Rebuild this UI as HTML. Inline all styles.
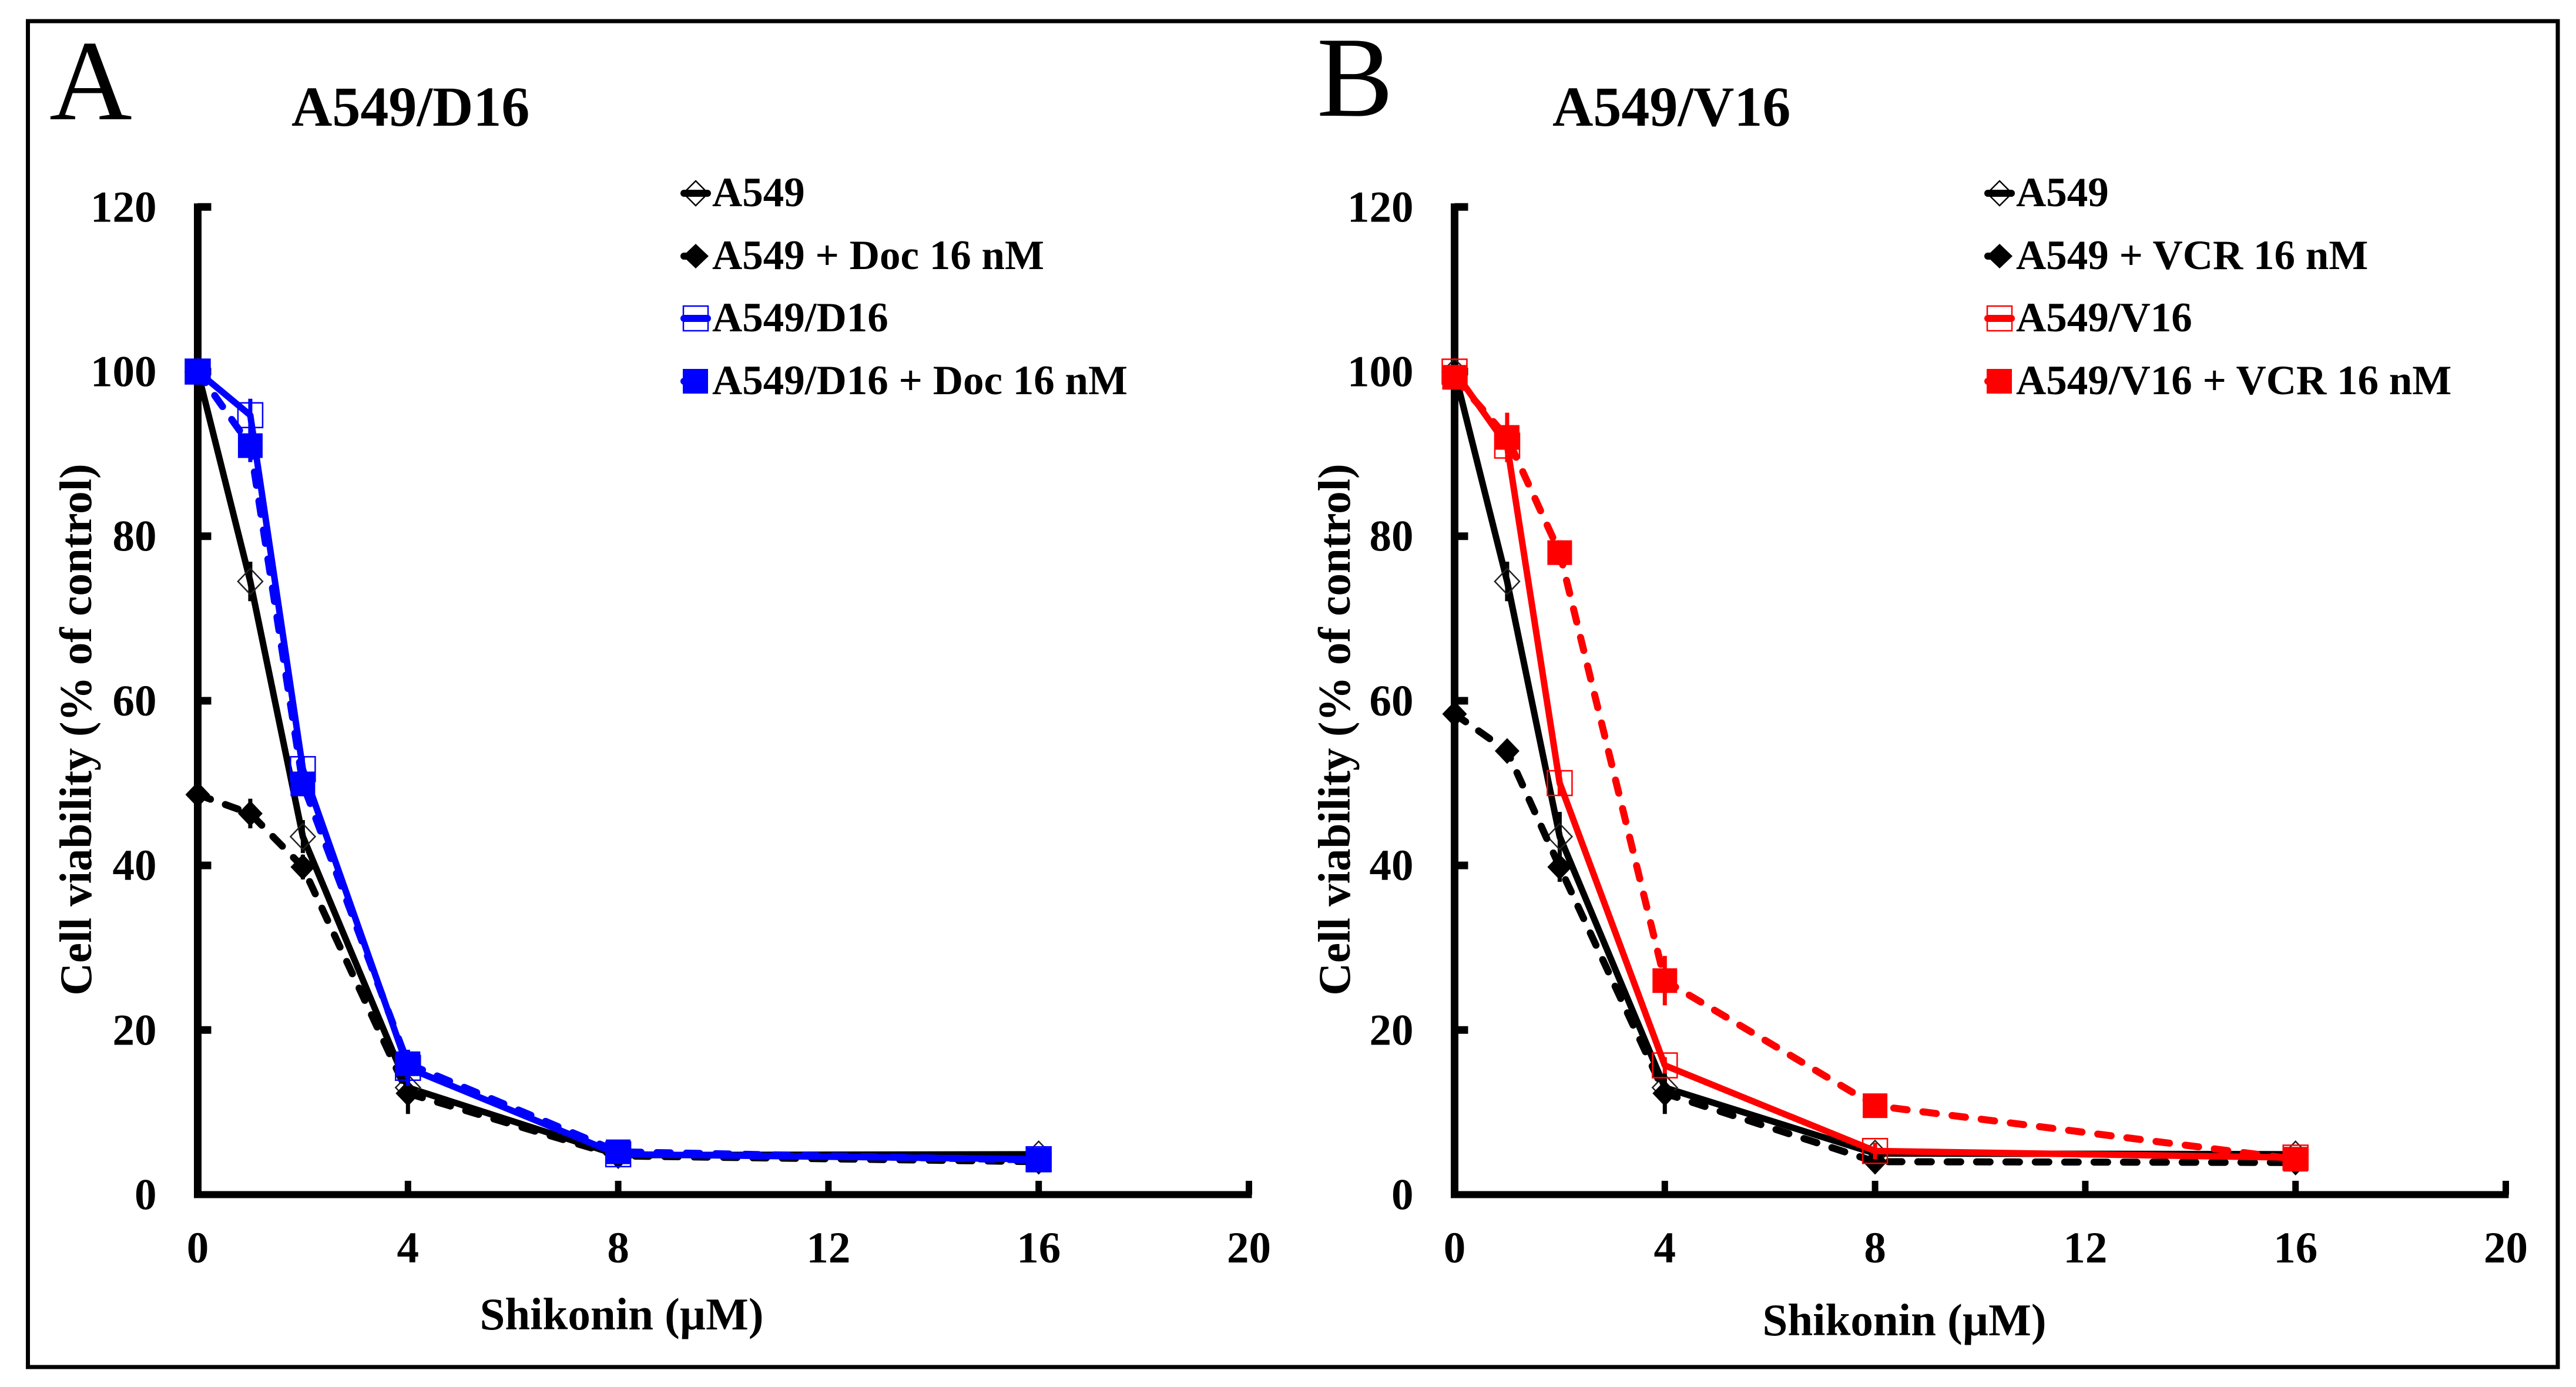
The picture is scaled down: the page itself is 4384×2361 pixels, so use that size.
<!DOCTYPE html>
<html lang="en">
<head>
<meta charset="utf-8">
<title>Cell viability vs Shikonin</title>
<style>
html,body{margin:0;padding:0;background:#fff;width:4384px;height:2361px;overflow:hidden}
svg{display:block}
text{font-family:"Liberation Serif",serif;fill:#000}
.b{font-weight:bold}
</style>
</head>
<body>
<svg id="figure" xmlns="http://www.w3.org/2000/svg" width="4384" height="2361" viewBox="0 0 4384 2361">
  <rect x="0" y="0" width="4384" height="2361" fill="#fff"/>
  <rect x="47.5" y="36" width="4305.5" height="2291" fill="none" stroke="#000" stroke-width="7"/>

  <text x="84" y="203" font-size="195">A</text>
  <text class="b" x="496" y="214" font-size="96">A549/D16</text>
  <text x="2241" y="197" font-size="195">B</text>
  <text class="b" x="2642" y="214" font-size="96">A549/V16</text>

  <text class="b" font-size="77" text-anchor="middle" transform="translate(155 1242) rotate(-90)">Cell viability (% of control)</text>
  <text class="b" font-size="77" text-anchor="middle" transform="translate(2297 1242) rotate(-90)">Cell viability (% of control)</text>
  <text class="b" font-size="77" text-anchor="middle" x="1058" y="2263">Shikonin (µM)</text>
  <text class="b" font-size="77" text-anchor="middle" x="3241" y="2273">Shikonin (µM)</text>

  <g id="plot-a"></g>
  <g id="plot-b"></g>

  <g>
    <g>
      <line x1="1164" y1="329" x2="1204" y2="329" stroke="#000" stroke-width="12" stroke-linecap="round"/>
      <polygon points="1184,308 1205,329 1184,350 1163,329" fill="none" stroke="#000" stroke-width="2.5"/>
      <text class="b" x="1212" y="351" font-size="71">A549</text>
    </g>
    <g>
      <line x1="1164" y1="436" x2="1190" y2="436" stroke="#000" stroke-width="12" stroke-linecap="round"/>
      <polygon points="1184,415 1206,436 1184,457 1162,436" fill="#000"/>
      <text class="b" x="1212" y="458" font-size="71">A549 + Doc 16 nM</text>
    </g>
    <g>
      <line x1="1164" y1="542" x2="1204" y2="542" stroke="#00f" stroke-width="12" stroke-linecap="round"/>
      <rect x="1163" y="521" width="42" height="42" fill="none" stroke="#00f" stroke-width="2.5"/>
      <text class="b" x="1212" y="564" font-size="71">A549/D16</text>
    </g>
    <g>
      <line x1="1164" y1="649" x2="1190" y2="649" stroke="#00f" stroke-width="12" stroke-linecap="round"/>
      <rect x="1162" y="628" width="43" height="42" fill="#00f"/>
      <text class="b" x="1212" y="671" font-size="71">A549/D16 + Doc 16 nM</text>
    </g>
  </g>

  <g>
    <g>
      <line x1="3383" y1="329" x2="3423" y2="329" stroke="#000" stroke-width="12" stroke-linecap="round"/>
      <polygon points="3403,308 3424,329 3403,350 3382,329" fill="none" stroke="#000" stroke-width="2.5"/>
      <text class="b" x="3431" y="351" font-size="71">A549</text>
    </g>
    <g>
      <line x1="3383" y1="436" x2="3409" y2="436" stroke="#000" stroke-width="12" stroke-linecap="round"/>
      <polygon points="3403,415 3425,436 3403,457 3381,436" fill="#000"/>
      <text class="b" x="3431" y="458" font-size="71">A549 + VCR 16 nM</text>
    </g>
    <g>
      <line x1="3383" y1="542" x2="3423" y2="542" stroke="#f00" stroke-width="12" stroke-linecap="round"/>
      <rect x="3382" y="521" width="42" height="42" fill="none" stroke="#f00" stroke-width="2.5"/>
      <text class="b" x="3431" y="564" font-size="71">A549/V16</text>
    </g>
    <g>
      <line x1="3383" y1="649" x2="3409" y2="649" stroke="#f00" stroke-width="12" stroke-linecap="round"/>
      <rect x="3381" y="628" width="43" height="42" fill="#f00"/>
      <text class="b" x="3431" y="671" font-size="71">A549/V16 + VCR 16 nM</text>
    </g>
  </g>
</svg>

<script>
// Chart data
const doses = [0, 1, 2, 4, 8, 16];
const xTickLabels = [0, 4, 8, 12, 16, 20];
const yTickLabels = [0, 20, 40, 60, 80, 100, 120];

const a549ValuesA = [100, 74.5, 43.5, 13, 4.8, 4.9];
const a549ErrorsA = [0, 2.4, 2, 1.5, 0.5, 0.4];
const a549DocValues = [48.6, 46.3, 39.8, 12.3, 4.7, 4.0];
const a549DocErrors = [0, 1.8, 1.5, 2.5, 0.8, 0.8];
const d16Values = [100, 94.7, 51.7, 15.4, 4.9, 4.3];
const d16Errors = [0, 2, 1.5, 2.2, 0.5, 0.4];
const d16DocValues = [100, 91, 49.9, 15.9, 5.2, 4.2];
const d16DocErrors = [0, 2, 1.5, 1.5, 0.5, 0.5];

const a549ValuesB = [100, 74.5, 43.5, 13, 5, 4.9];
const a549ErrorsB = [0, 2.4, 3, 1.5, 0.5, 0.4];
const a549VcrValues = [58.4, 53.9, 39.8, 12.3, 4, 3.9];
const a549VcrErrors = [0, 0.8, 1.8, 2.5, 0.8, 0.6];
const v16Values = [100, 91, 50, 15.7, 5.3, 4.5];
const v16Errors = [0, 1, 1.5, 1, 1, 0.4];
const v16VcrValues = [99.3, 92, 78, 26, 10.8, 4.3];
const v16VcrErrors = [0, 3, 1.5, 3, 1.2, 0.5];

const NS = 'http://www.w3.org/2000/svg';

function xScaleFor(originX) {
  return function (v) { return originX + v * 89.45; };
}
function yScale(v) {
  return 2033.5 - v * 14.01;
}
function make(tag, parent, attrs) {
  const el = document.createElementNS(NS, tag);
  Object.keys(attrs).forEach(function (k) { el.setAttribute(k, attrs[k]); });
  parent.appendChild(el);
  return el;
}

function drawAxes(group, originX, suffix) {
  const xs = xScaleFor(originX);
  const yAxis = make('line', group, {x1: originX, y1: yScale(120) - 6, x2: originX, y2: yScale(0) + 6, stroke: '#000', 'stroke-width': 13});
  
  
  const xAxis = make('line', group, {x1: originX - 6, y1: yScale(0), x2: xs(20) + 5, y2: yScale(0), stroke: '#000', 'stroke-width': 12});
  
  

  yTickLabels.forEach(function (t) {
    const y = yScale(t);
    if (t > 0) {
      const tick = make('line', group, {x1: originX, y1: y, x2: originX + 23, y2: y, stroke: '#000', 'stroke-width': 13});
      
      
    }
    const label = make('text', group, {x: originX - 70, y: y + 25, 'font-size': 75, 'text-anchor': 'end', 'class': 'b'});
    
    
    label.textContent = t;
  });

  xTickLabels.forEach(function (t) {
    const x = xs(t);
    if (t > 0) {
      const tick = make('line', group, {x1: x, y1: 2010, x2: x, y2: yScale(0), stroke: '#000', 'stroke-width': 11});
      
      
    }
    const label = make('text', group, {x: x, y: 2149, 'font-size': 75, 'text-anchor': 'middle', 'class': 'b'});
    
    
    label.textContent = t;
  });
}

function drawSeries(group, originX, seriesName, values, errors, color, dashed, shape, filled) {
  const xs = xScaleFor(originX);
  const series = make('g', group, {});
  
  

  const pts = doses.map(function (d, i) { return xs(d) + ',' + yScale(values[i]); }).join(' ');
  const attrs = {points: pts, fill: 'none', stroke: color, 'stroke-width': dashed ? 12 : 11, 'stroke-linejoin': 'round'};
  if (dashed) {
    attrs['stroke-dasharray'] = '23 27';
    attrs['stroke-linecap'] = 'round';
  }
  const line = make('polyline', series, attrs);
  
  

  doses.forEach(function (d, i) {
    const x = xs(d);
    const y = yScale(values[i]);
    if (errors[i] > 0) {
      const bar = make('line', series, {x1: x, y1: yScale(values[i] + errors[i]), x2: x, y2: yScale(values[i] - errors[i]), stroke: color, 'stroke-width': 7});
      
      
    }
    let marker;
    const style = filled
      ? {fill: color}
      : {fill: 'none', stroke: color === '#000' ? '#222' : color, 'stroke-width': 2.5};
    if (shape === 'square') {
      marker = make('rect', series, Object.assign({x: x - 21, y: y - 21, width: 42, height: 42}, style));
    } else {
      marker = make('polygon', series, Object.assign({points: x + ',' + (y - 22) + ' ' + (x + 21) + ',' + y + ' ' + x + ',' + (y + 22) + ' ' + (x - 21) + ',' + y}, style));
    }
    
    
  });
}

const plotA = document.getElementById('plot-a');
const originA = 336.5;
drawAxes(plotA, originA, 'a');
drawSeries(plotA, originA, 'a549', a549ValuesA, a549ErrorsA, '#000', false, 'diamond', false);
drawSeries(plotA, originA, 'a549-doc', a549DocValues, a549DocErrors, '#000', true, 'diamond', true);
drawSeries(plotA, originA, 'a549-d16', d16Values, d16Errors, '#00f', false, 'square', false);
drawSeries(plotA, originA, 'a549-d16-doc', d16DocValues, d16DocErrors, '#00f', true, 'square', true);

const plotB = document.getElementById('plot-b');
const originB = 2475.5;
drawAxes(plotB, originB, 'b');
drawSeries(plotB, originB, 'a549-b', a549ValuesB, a549ErrorsB, '#000', false, 'diamond', false);
drawSeries(plotB, originB, 'a549-vcr', a549VcrValues, a549VcrErrors, '#000', true, 'diamond', true);
drawSeries(plotB, originB, 'a549-v16', v16Values, v16Errors, '#f00', false, 'square', false);
drawSeries(plotB, originB, 'a549-v16-vcr', v16VcrValues, v16VcrErrors, '#f00', true, 'square', true);
</script>
</body>
</html>
